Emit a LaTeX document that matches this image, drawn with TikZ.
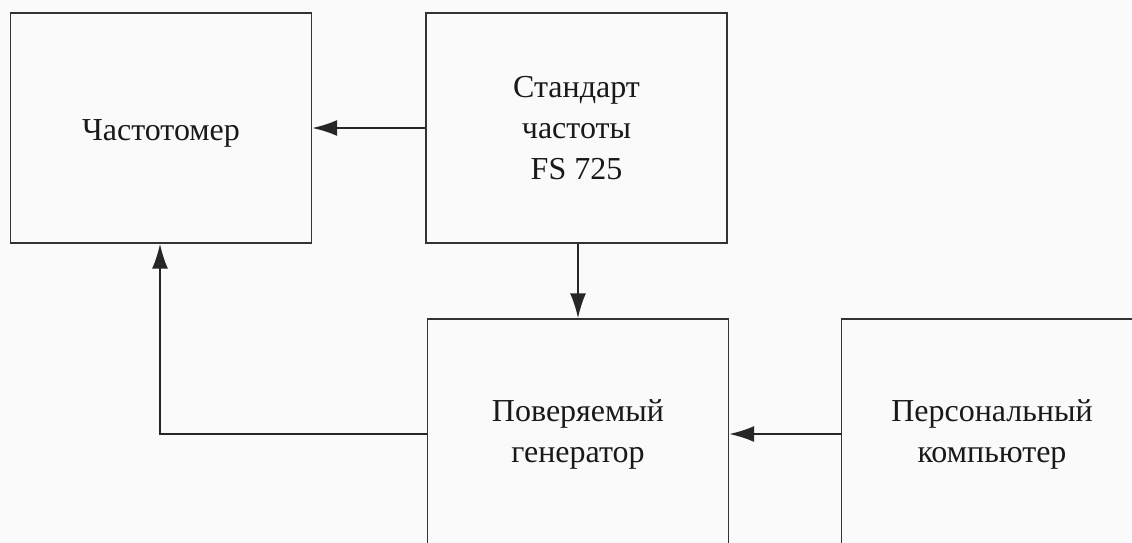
\documentclass[tikz,border=0pt]{standalone}
\usepackage{fontspec}
\setmainfont{Liberation Serif}
\usetikzlibrary{arrows.meta}
\begin{document}
\begin{tikzpicture}[x=1pt,y=-1pt,
  blk/.style={draw=black!80,line width=1.3pt,minimum width=301pt,minimum height=230pt,inner sep=0pt,align=center,font=\fontsize{32}{41}\selectfont,text=black!90},
  conn/.style={draw=black!85,line width=2pt,-{Latex[length=25pt,width=16pt]}}]
\useasboundingbox (0,0) rectangle (1132,543);
\clip (0,0) rectangle (1132,543);
\fill[white!98!black] (0,0) rectangle (1132,543);
\node[blk] (f) at (161,128) {\raisebox{-5pt}[\height][\depth]{Частотомер}};
\node[blk] (s) at (576.5,128) {Стандарт\\частоты\\FS 725};
\node[blk] (g) at (578,434) {Поверяемый\\генератор};
\node[blk] (p) at (992,434) {Персональный\\компьютер};
\draw[conn] (s.west) -- (f.east);
\draw[conn] (s.south -| 578,0) -- (g.north -| 578,0);
\draw[conn] (p.west) -- (g.east);
\draw[conn] (g.west) -- (160,434) -- (f.south -| 160,0);
\end{tikzpicture}
\end{document}
